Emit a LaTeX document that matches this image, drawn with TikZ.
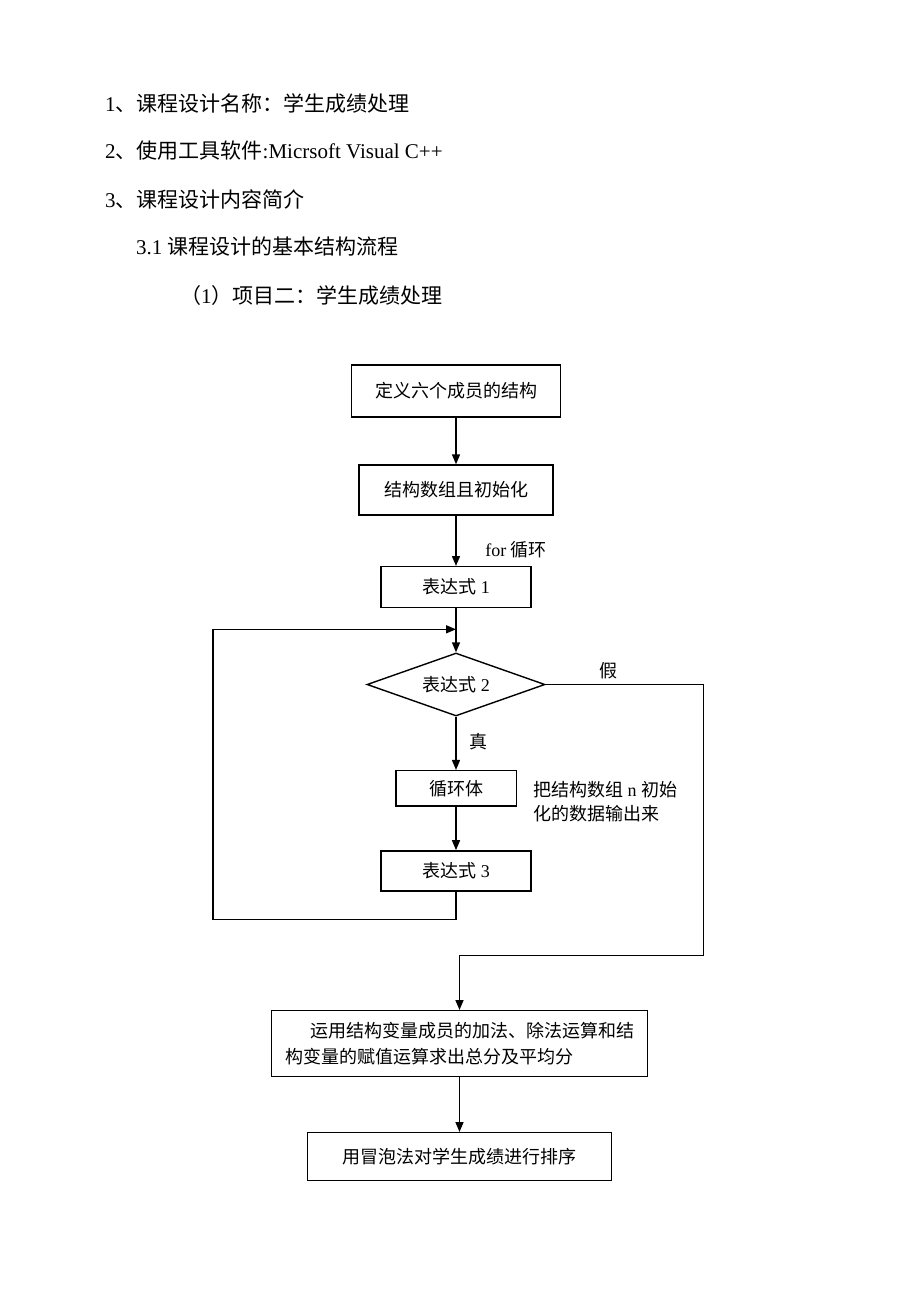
\documentclass[tikz,border=0pt]{standalone}
\usepackage{fontspec}
\setmainfont{Liberation Serif}
\newfontfamily\cjk{Noto Sans CJK SC}
\usetikzlibrary{arrows.meta,shapes.geometric}
\newcommand\zh[1]{{\cjk #1}}
\begin{document}
\begin{tikzpicture}[x=1pt,y=-1pt,
  box/.style={draw,line width=1.4pt,rectangle,inner sep=0pt,font=\fontsize{18}{26}\selectfont},
  lab/.style={inner sep=0pt,font=\fontsize{18}{24}\selectfont},
  head/.style={inner sep=0pt,anchor=west,font=\fontsize{21}{24}\selectfont},
  arr/.style={line width=1.5pt,-{Triangle[length=10pt,width=8pt]}},
  ln/.style={line width=1.4pt}]
\useasboundingbox[fill=white] (0,0) rectangle (920,1302);
% headings
\node[head] (h1) at (105,103) {1\zh{、课程设计名称：学生成绩处理}};
\node[head] (h2) at (105,151) {2\zh{、使用工具软件}:Micrsoft Visual C++};
\node[head] (h3) at (105,199) {3\zh{、课程设计内容简介}};
\node[head] (h4) at (136,247) {3.1 \zh{课程设计的基本结构流程}};
\node[head] (h5) at (180,296) {\zh{（}1\zh{）项目二：学生成绩处理}};
% boxes
\node[box,minimum width=209pt,minimum height=52pt] (b1) at (456,391) {\zh{定义六个成员的结构}};
\node[box,minimum width=194pt,minimum height=50pt] (b2) at (456,490) {\zh{结构数组且初始化}};
\node[box,minimum width=150pt,minimum height=40.6pt] (b3) at (456,587) {\zh{表达式} 1};
\node[draw,line width=1.4pt,diamond,minimum width=178pt,minimum height=63pt,inner sep=0pt] (d) at (456,684.5) {};
\node[lab] (dt) at (d.center) {\zh{表达式} 2};
\node[box,minimum width=120.4pt,minimum height=35.3pt] (b4) at (456,788.3) {\zh{循环体}};
\node[box,minimum width=150pt,minimum height=40.3pt] (b5) at (456,871) {\zh{表达式} 3};
\node[box,minimum width=376pt,minimum height=66pt,align=left] (b6) at (459.5,1043.7)
  {\hspace*{25pt}\zh{运用结构变量成员的加法、除法运算和结}\\\zh{构变量的赋值运算求出总分及平均分}};
\node[box,minimum width=304.3pt,minimum height=48pt] (b7) at (459.5,1156.7) {\zh{用冒泡法对学生成绩进行排序}};
% labels
\node[lab] (lfor) at (516,550) {for \zh{循环}};
\node[lab] (lf) at (608,670.7) {\zh{假}};
\node[lab] (lt) at (478,741.7) {\zh{真}};
\node[lab,anchor=west,align=left] (note) at (533,802) {\zh{把结构数组} n \zh{初始}\\\zh{化的数据输出来}};
% connectors
\coordinate (j) at (456,629.3);
\coordinate (lb) at (213,919.3);
\coordinate (fr) at (703.3,955.7);
\draw[arr] (b1.south) -- (b2.north);
\draw[arr] (b2.south) -- (b3.north);
\draw[arr] (b3.south) -- (d.north);
\draw[arr] (d.south) -- (b4.north);
\draw[arr] (b4.south) -- (b5.north);
\draw[arr] (b5.south) |- (lb) |- (j);
\draw[arr] (d.east) -| (fr) -| (b6.north);
\draw[arr] (b6.south) -- (b7.north);
\end{tikzpicture}
\end{document}
